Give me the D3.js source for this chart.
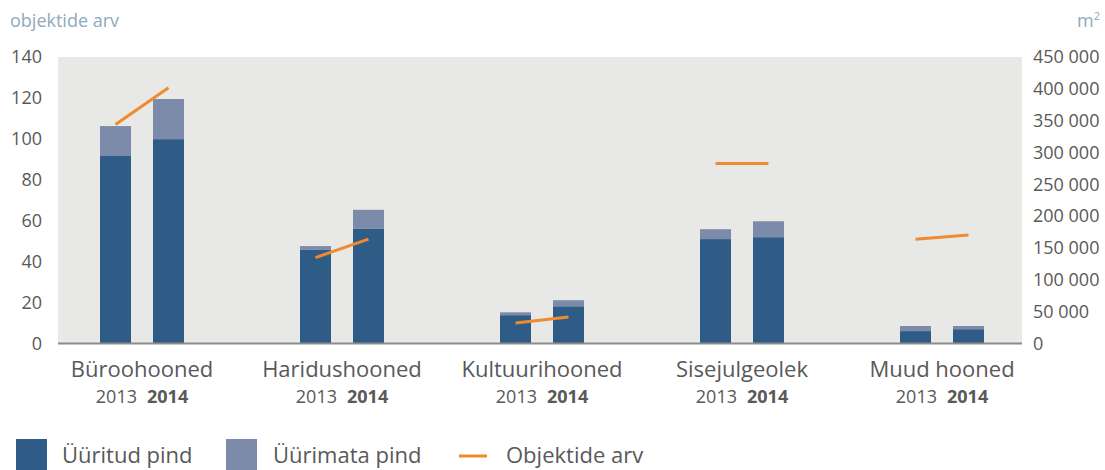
<!DOCTYPE html>
<html>
<head>
<meta charset="utf-8">
<script src="https://cdn.jsdelivr.net/npm/d3@7"></script>
<style>
  body { margin: 0; background: #fff; }
  text { font-family: "Open Sans", sans-serif; }
</style>
</head>
<body>
<svg class="chart"></svg>
<script>
//Data
const categories = ["Büroohooned", "Haridushooned", "Kultuurihooned", "Sisejulgeolek", "Muud hooned"];
const years = ["2013", "2014"];
//rented area (m2) per category, [2013, 2014]
const rented = [[294500, 321000], [147000, 180000], [44500, 58500], [164000, 167000], [19500, 22500]];
//unrented area (m2)
const unrented = [[47000, 63000], [6000, 30000], [4500, 9500], [15500, 25000], [8000, 5000]];
//number of objects
const objects = [[107, 125], [42, 51], [10, 13], [88, 88], [51, 53]];
const leftTicks = [0, 20, 40, 60, 80, 100, 120, 140];
const rightTicks = [0, 50000, 100000, 150000, 200000, 250000, 300000, 350000, 400000, 450000];
const legendItems = ["Üüritud pind", "Üürimata pind", "Objektide arv"];

const width = 1105, height = 470;
const plot = {left: 58, right: 1022, top: 57, bottom: 343.5};
const dark = "#2e5c87", light = "#7d8bab", orange = "#f08a2e";

const svg = d3.select(".chart").attr("width", width).attr("height", height);

//background of plot area
svg.append("rect")
  .attr("x", plot.left).attr("y", plot.top)
  .attr("width", plot.right - plot.left).attr("height", plot.bottom - plot.top)
  .attr("fill", "#e8e8e6");

//scales
const x0 = d3.scaleBand().domain(categories).range([42, 1042]);
const x1 = d3.scaleBand().domain(years).range([58, 142]).paddingInner(22 / 53);
const yL = d3.scaleLinear().domain([0, 140]).range([plot.bottom, plot.top]);
const yR = d3.scaleLinear().domain([0, 450000]).range([plot.bottom, plot.top]);

//left axis labels
svg.append("g")
  .attr("transform", "translate(" + plot.left + ",0)")
  .call(d3.axisLeft(yL).tickValues(leftTicks).tickSize(0).tickPadding(16))
  .call(g => g.select(".domain").remove())
  .call(g => g.selectAll("text").attr("fill", "#595959").style("font-size", "18px")
    .attr("font-family", null));

//right axis labels
const fmt = d => d3.format(",")(d).replace(/,/g, " ");
svg.append("g")
  .attr("transform", "translate(" + plot.right + ",0)")
  .call(d3.axisRight(yR).tickValues(rightTicks).tickFormat(fmt).tickSize(0).tickPadding(11))
  .call(g => g.select(".domain").remove())
  .call(g => g.selectAll("text").attr("fill", "#595959").style("font-size", "18px")
    .attr("font-family", null));

//stacked bars
const rows = [];
categories.forEach((c, i) => {
  years.forEach((yr, j) => {
    rows.push({cat: c, year: yr, r: rented[i][j], u: unrented[i][j]});
  });
});

const bars = svg.append("g");
bars.selectAll(".rented").data(rows).enter().append("rect")
  .attr("x", d => x0(d.cat) + x1(d.year))
  .attr("width", x1.bandwidth())
  .attr("y", d => yR(d.r))
  .attr("height", d => yR(0) - yR(d.r))
  .attr("fill", dark);
bars.selectAll(".unrented").data(rows).enter().append("rect")
  .attr("x", d => x0(d.cat) + x1(d.year))
  .attr("width", x1.bandwidth())
  .attr("y", d => yR(d.r + d.u))
  .attr("height", d => yR(d.r) - yR(d.r + d.u))
  .attr("fill", light);

//x axis line
svg.append("line")
  .attr("x1", plot.left).attr("x2", plot.right)
  .attr("y1", plot.bottom).attr("y2", plot.bottom)
  .attr("stroke", "#8c8c8c").attr("stroke-width", 2);

//object count lines, one segment per category
const line = d3.line()
  .x(d => x0(d.cat) + x1(d.year) + x1.bandwidth() / 2)
  .y(d => yL(d.v));
categories.forEach((c, i) => {
  svg.append("path")
    .datum(years.map((yr, j) => ({cat: c, year: yr, v: objects[i][j]})))
    .attr("fill", "none")
    .attr("stroke", orange)
    .attr("stroke-width", 3)
    .attr("d", line);
});

//category labels
const labels = svg.append("g");
categories.forEach(c => {
  const cx = x0(c) + x0.bandwidth() / 2;
  labels.append("text")
    .attr("x", cx).attr("y", 377)
    .attr("text-anchor", "middle")
    .attr("fill", "#595959")
    .style("font-size", "22px")
    .text(c);
  const t = labels.append("text")
    .attr("x", cx).attr("y", 403)
    .attr("text-anchor", "middle")
    .attr("fill", "#595959")
    .style("font-size", "18px");
  t.append("tspan").text(years[0]);
  t.append("tspan").attr("dx", 10).attr("font-weight", "bold").text(years[1]);
});

//axis titles
svg.append("text")
  .attr("x", 10).attr("y", 27)
  .attr("fill", "#8eaabd")
  .style("font-size", "18px")
  .text("objektide arv");
const m2 = svg.append("text")
  .attr("x", 1100).attr("y", 27)
  .attr("text-anchor", "end")
  .attr("fill", "#8eaabd")
  .style("font-size", "18px")
  .text("m");
m2.append("tspan").attr("dy", -7).style("font-size", "11px").text("2");

//legend
const legend = svg.append("g");
legend.append("rect").attr("x", 16).attr("y", 439).attr("width", 31).attr("height", 31).attr("fill", dark);
legend.append("text").attr("x", 62).attr("y", 463).attr("fill", "#595959").style("font-size", "22px").text(legendItems[0]);
legend.append("rect").attr("x", 226).attr("y", 439).attr("width", 31).attr("height", 31).attr("fill", light);
legend.append("text").attr("x", 273).attr("y", 463).attr("fill", "#595959").style("font-size", "22px").text(legendItems[1]);
legend.append("line").attr("x1", 459).attr("x2", 487).attr("y1", 456).attr("y2", 456)
  .attr("stroke", orange).attr("stroke-width", 3);
legend.append("text").attr("x", 506).attr("y", 463).attr("fill", "#595959").style("font-size", "22px").text(legendItems[2]);
</script>
</body>
</html>
